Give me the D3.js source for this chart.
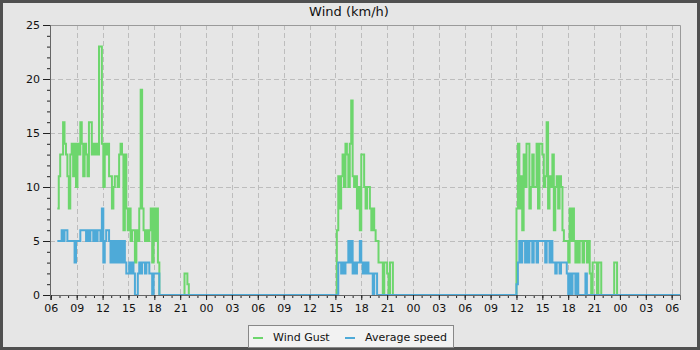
<!DOCTYPE html>
<html>
<head>
<meta charset="utf-8">
<script src="https://cdn.jsdelivr.net/npm/d3@7"></script>
<style>
  body { margin: 0; background: #e6e6e6; }
  svg { display: block; font-family: "DejaVu Sans", sans-serif; }
</style>
</head>
<body>
<svg id="chart" width="700" height="350"></svg>
<script>
// readings every 10 minutes, one array per windy stretch (km/h)
// the quiet hours between stretches are flat zero
var day1Start = "2023-06-12 06:45";
var day1Gust = [8, 11, 13, 13, 16, 14, 13, 11, 8, 13, 14, 11, 14, 10, 14, 13, 16, 14, 11, 14,
                13, 11, 16, 16, 13, 14, 13, 14, 13, 23, 23, 14, 10, 14, 13, 14, 11, 11, 8, 10,
                11, 11, 10, 13, 14, 13, 6, 13, 8, 6, 8, 5, 6, 6, 3, 6, 5, 8, 19, 8,
                6, 5, 6, 5, 6, 8, 3, 8, 5, 8, 3, 0];
var day1Avg = [5, 5, 5, 6, 5, 6, 6, 5, 5, 5, 5, 5, 3, 5, 5, 5, 6, 6, 6, 6,
               5, 6, 5, 6, 6, 5, 6, 5, 6, 6, 5, 8, 3, 5, 6, 6, 5, 3, 5, 3,
               5, 3, 5, 3, 5, 3, 5, 3, 2, 2, 3, 2, 3, 2, 0, 0, 2, 3, 2, 3,
               3, 2, 3, 3, 2, 2, 0, 2, 2, 2, 2, 0];

var nightStart = "2023-06-12 21:30";
var nightGust = [2, 2, 1, 0];
var nightAvg = [0, 0, 0, 0];

var day2Start = "2023-06-13 15:10";
var day2Gust = [6, 11, 8, 11, 13, 10, 14, 13, 10, 14, 18, 11, 10, 11, 8, 10, 6, 13, 13, 10,
                8, 10, 10, 8, 6, 8, 6, 5, 5, 3, 3, 3, 0, 3, 3, 2, 0, 3, 3, 0];
var day2Avg = [0, 3, 3, 2, 3, 2, 3, 3, 5, 3, 5, 2, 3, 2, 3, 3, 5, 3, 2, 3,
               2, 3, 2, 2, 2, 0, 2, 2, 0, 0, 0, 0, 0, 0, 0, 0, 0, 0, 0, 0];

var day3Start = "2023-06-14 11:50";
var day3Gust = [0, 8, 14, 8, 11, 6, 13, 10, 14, 14, 8, 10, 13, 10, 10, 14, 8, 14, 14, 13,
                10, 11, 16, 8, 11, 10, 13, 6, 10, 11, 8, 11, 10, 6, 5, 5, 5, 3, 8, 5,
                8, 5, 3, 5, 3, 5, 5, 3, 5, 5, 3, 5, 2, 0, 3, 3, 3, 0, 3, 3,
                0, 0, 0, 0, 0, 0, 0, 0, 0, 3, 3, 0];
var day3Avg = [0, 1, 3, 5, 3, 5, 5, 3, 5, 3, 5, 5, 3, 5, 5, 3, 5, 5, 5, 5,
               5, 3, 5, 5, 3, 5, 3, 3, 2, 3, 3, 2, 3, 3, 3, 3, 2, 0, 2, 0,
               2, 2, 0, 2, 0, 0, 0, 0, 0, 2, 0, 0, 0, 0, 0, 0, 0, 0, 0, 0,
               0, 0, 0, 0, 0, 0, 0, 0, 0, 0, 0, 0];

var axisFrom = "2023-06-12 05:54";
var axisTo = "2023-06-15 06:58";
var yTicks = [0, 5, 10, 15, 20, 25];
var seriesNames = ["Wind Gust", "Average speed"];
var colors = ["#6dd66d", "#4eaad8"];

var parse = d3.timeParse("%Y-%m-%d %H:%M");

function stretch(start, gust, avg) {
    var t0 = parse(start);
    return gust.map(function(g, i) {
        return { t: d3.timeMinute.offset(t0, i * 10), gust: g, avg: avg[i] };
    });
}

var data = [].concat(
    stretch(day1Start, day1Gust, day1Avg),
    stretch(nightStart, nightGust, nightAvg),
    stretch(day2Start, day2Gust, day2Avg),
    stretch(day3Start, day3Gust, day3Avg)
);
data.push({ t: parse(axisTo), gust: 0, avg: 0 });

var margin = { left: 50, right: 20, top: 25, bottom: 55 },
    width = 700, height = 350;

var svg = d3.select("#chart");

// outer frame
svg.append("rect")
    .attr("x", 1.5).attr("y", 1.5)
    .attr("width", width - 3).attr("height", height - 3)
    .style("fill", "#e6e6e6")
    .style("stroke", "#505050")
    .style("stroke-width", 3);

var x = d3.scaleTime()
    .domain([parse(axisFrom), parse(axisTo)])
    .range([margin.left, width - margin.right]);

var y = d3.scaleLinear()
    .domain([0, 25])
    .range([height - margin.bottom, margin.top]);

var x0 = margin.left, x1 = width - margin.right,
    y0 = height - margin.bottom, y1 = margin.top;

// title
svg.append("text")
    .attr("x", 349).attr("y", 16)
    .attr("text-anchor", "middle")
    .text("Wind (km/h)")
    .style("fill", "#111")
    .style("font-size", "13px");

// grid
var grid = svg.append("g")
    .style("stroke", "#bdbdbd")
    .style("stroke-dasharray", "5,3")
    .style("stroke-width", 1);

grid.selectAll(".vg")
    .data(x.ticks(d3.timeHour.every(3)).filter(function(d) { return x(d) > x0 + 2; }))
    .enter().append("line")
    .attr("x1", function(d) { return Math.round(x(d)) + 0.5; })
    .attr("x2", function(d) { return Math.round(x(d)) + 0.5; })
    .attr("y1", y1).attr("y2", y0);

grid.selectAll(".hg")
    .data(yTicks.filter(function(d) { return d > 0 && d < 25; }))
    .enter().append("line")
    .attr("x1", x0).attr("x2", x1)
    .attr("y1", function(d) { return Math.round(y(d)) + 0.5; })
    .attr("y2", function(d) { return Math.round(y(d)) + 0.5; });

// plot border top and right
svg.append("path")
    .attr("d", "M" + x0 + "," + (y1 + 0.5) + "H" + (x1 + 0.5) + "V" + y0)
    .style("fill", "none")
    .style("stroke", "#9a9a9a");

// series
var keys = ["gust", "avg"];
keys.forEach(function(k, i) {
    var line = d3.line()
        .x(function(d) { return x(d.t); })
        .y(function(d) { return y(d[k]); })
        .curve(d3.curveStepAfter);
    svg.append("path")
        .datum(data)
        .attr("d", line)
        .style("fill", "none")
        .style("stroke", colors[i])
        .style("stroke-width", 2);
});

// axes
function styleAxis(g, showText) {
    g.select(".domain").style("stroke", "#666");
    g.selectAll(".tick line").style("stroke", "#222");
    g.selectAll("text").style("fill", "#111").style("font-size", "11px")
        .style("font-family", "DejaVu Sans, sans-serif");
    if (!showText) g.selectAll("text").remove();
}

svg.append("g")
    .attr("transform", "translate(0," + y0 + ")")
    .call(d3.axisBottom(x).ticks(d3.timeHour.every(1)).tickSize(3).tickFormat(""))
    .call(styleAxis, false);

svg.append("g")
    .attr("transform", "translate(0," + y0 + ")")
    .call(d3.axisBottom(x).ticks(d3.timeHour.every(3)).tickSize(5).tickPadding(4)
        .tickFormat(d3.timeFormat("%H")))
    .call(styleAxis, true);

svg.append("g")
    .attr("transform", "translate(" + x0 + ",0)")
    .call(d3.axisLeft(y).ticks(25).tickSize(3).tickFormat(""))
    .call(styleAxis, false);

svg.append("g")
    .attr("transform", "translate(" + x0 + ",0)")
    .call(d3.axisLeft(y).tickValues(yTicks).tickSize(7).tickPadding(3))
    .call(styleAxis, true);

// legend
var legend = svg.append("g").attr("transform", "translate(248,325)");
legend.append("rect")
    .attr("x", 0.5).attr("y", 0.5)
    .attr("width", 205).attr("height", 22)
    .style("fill", "#f2f2f2")
    .style("stroke", "#888");

var itemX = [5, 97];
seriesNames.forEach(function(name, i) {
    legend.append("line")
        .attr("x1", itemX[i]).attr("x2", itemX[i] + 10)
        .attr("y1", 13).attr("y2", 13)
        .style("stroke", colors[i])
        .style("stroke-width", 2);
    legend.append("text")
        .attr("x", itemX[i] + 20).attr("y", 15.5)
        .text(name)
        .style("fill", "#111")
        .style("font-size", "11px");
});
</script>
</body>
</html>
